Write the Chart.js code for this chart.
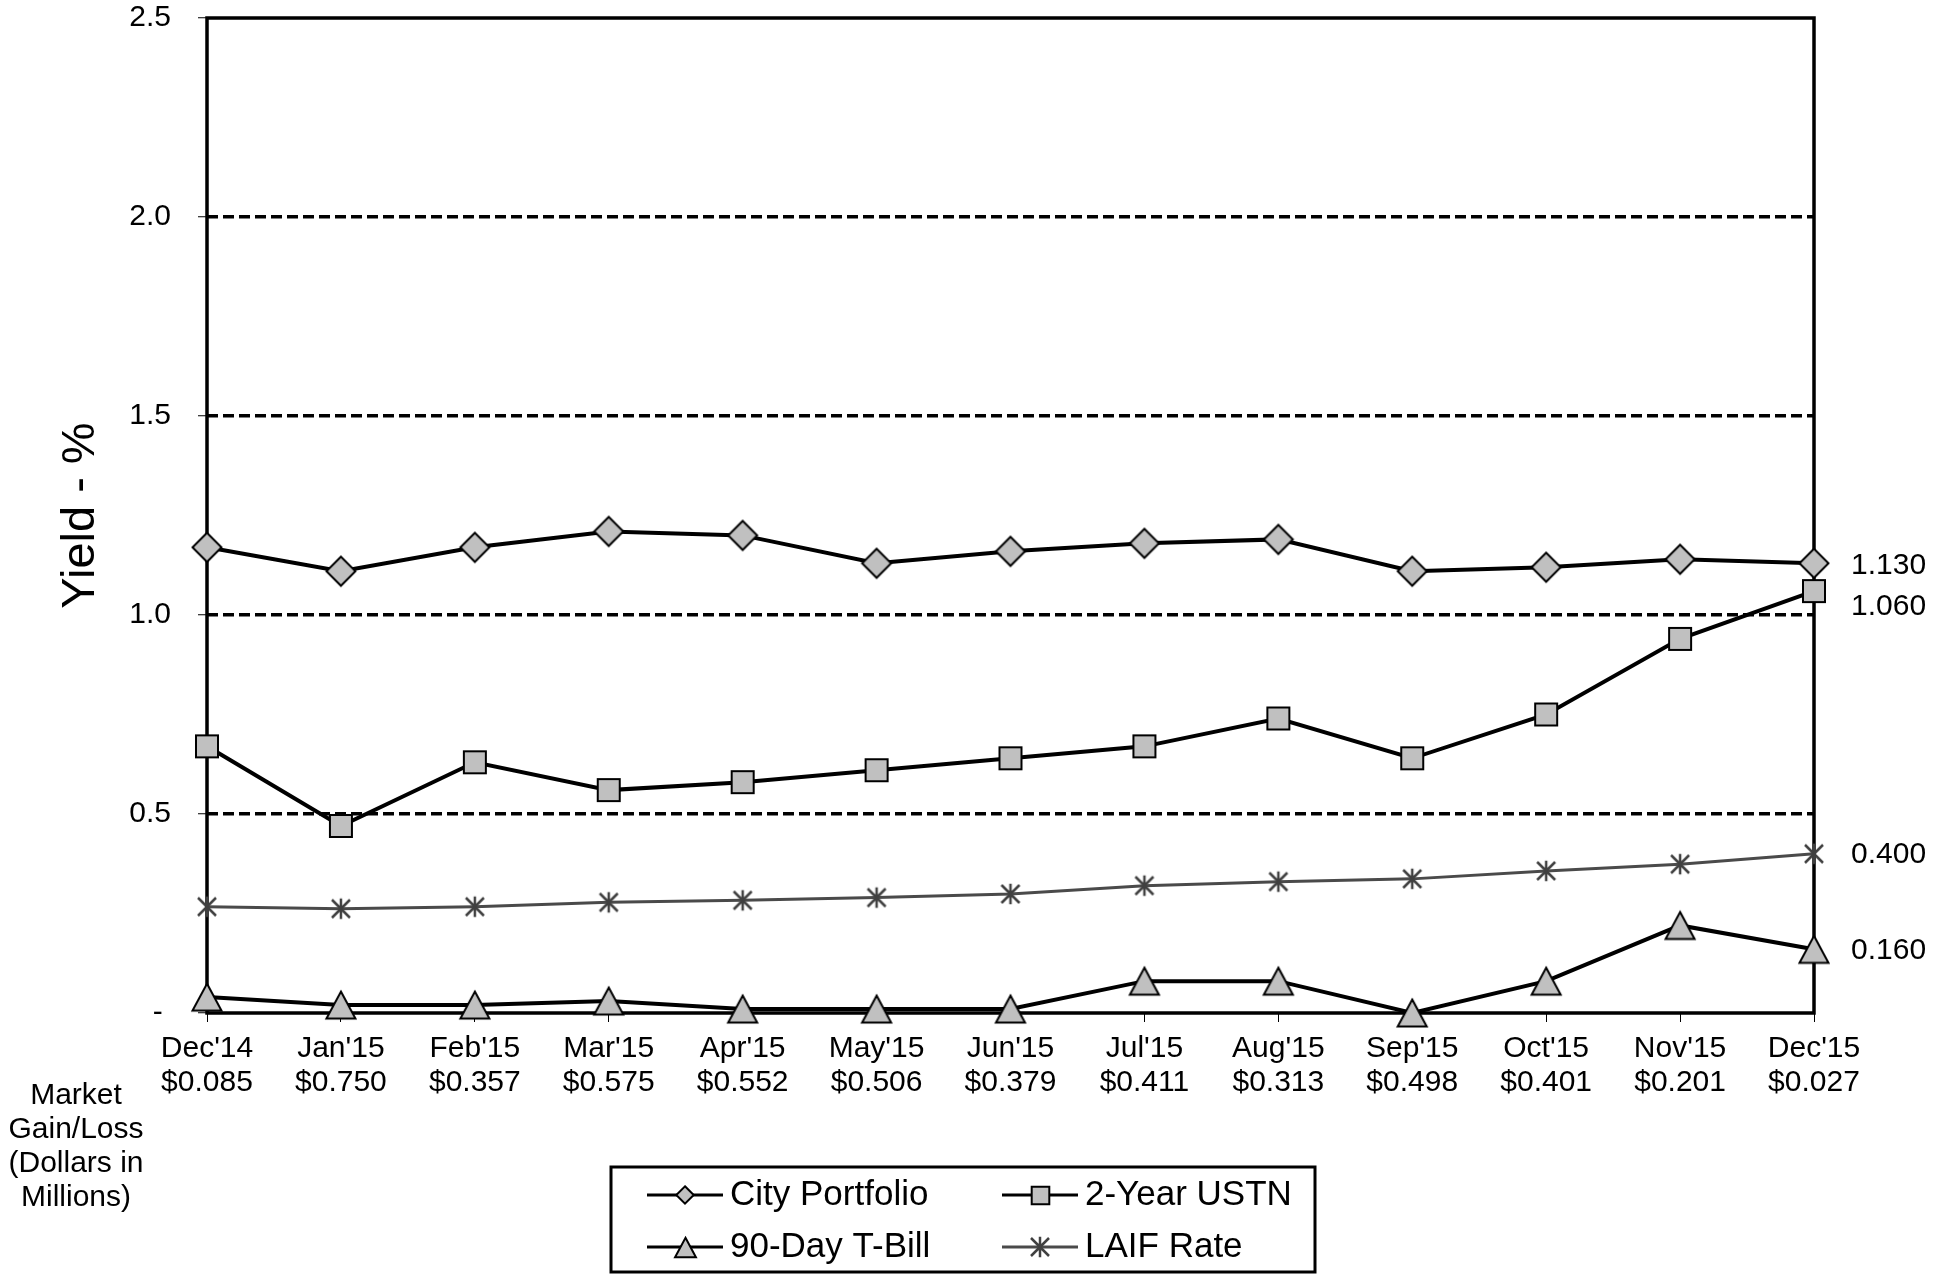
<!DOCTYPE html>
<html>
<head>
<meta charset="utf-8">
<script src="https://cdn.jsdelivr.net/npm/chart.js@4.4.1/dist/chart.umd.min.js"></script>
<style>
  html, body { margin: 0; padding: 0; background: #fff; }
  #wrap { width: 1955px; height: 1274px; position: relative; }
</style>
</head>
<body>
<div id="wrap"><canvas id="chart"></canvas></div>
<script>
const MONTHS    = ["Dec'14", "Jan'15", "Feb'15", "Mar'15", "Apr'15", "May'15", "Jun'15",
                   "Jul'15", "Aug'15", "Sep'15", "Oct'15", "Nov'15", "Dec'15"];
const GAIN_LOSS = ['$0.085', '$0.750', '$0.357', '$0.575', '$0.552', '$0.506', '$0.379',
                   '$0.411', '$0.313', '$0.498', '$0.401', '$0.201', '$0.027'];

const SERIES_NAMES = ['City Portfolio', '2-Year USTN', '90-Day T-Bill', 'LAIF Rate'];
const CITY  = [1.17, 1.11, 1.17, 1.21, 1.20, 1.13, 1.16, 1.18, 1.19, 1.11, 1.12, 1.14, 1.13];
const USTN  = [0.67, 0.47, 0.63, 0.56, 0.58, 0.61, 0.64, 0.67, 0.74, 0.64, 0.75, 0.94, 1.06];
const TBILL = [0.04, 0.02, 0.02, 0.03, 0.01, 0.01, 0.01, 0.08, 0.08, 0.00, 0.08, 0.22, 0.16];
const LAIF  = [0.267, 0.262, 0.267, 0.278, 0.283, 0.290, 0.299, 0.320, 0.330, 0.337, 0.357, 0.374, 0.400];

const Y_MIN = 0, Y_MAX = 2.5, Y_STEP = 0.5;

const FONT = "'Liberation Sans', Arial, sans-serif";

function makeMarker(kind, k) {
    const base = { diamond: 32, square: 26, triangle: 34, star: 24 }[kind];
    const size = Math.ceil(base * k) + 2;
    const c = document.createElement('canvas');
    c.width = c.height = size;
    const g = c.getContext('2d');
    const m = size / 2;
    g.fillStyle = '#c0c0c0';
    g.strokeStyle = '#000';
    g.lineWidth = 2;
    g.beginPath();
    if (kind === 'diamond') {
        const r = 14.5 * k;
        g.moveTo(m, m - r); g.lineTo(m + r, m); g.lineTo(m, m + r); g.lineTo(m - r, m);
        g.closePath();
    } else if (kind === 'square') {
        const h = 11 * k;
        g.rect(m - h, m - h, 2 * h, 2 * h);
    } else if (kind === 'triangle') {
        const w = 14.5 * k, h = 13.5 * k;
        g.moveTo(m, m - h); g.lineTo(m + w, m + h); g.lineTo(m - w, m + h);
        g.closePath();
    }
    if (kind === 'star') {
        const r = 9 * k;
        g.strokeStyle = '#404040';
        g.lineWidth = 2.5;
        g.moveTo(m - r, m - r); g.lineTo(m + r, m + r);
        g.moveTo(m + r, m - r); g.lineTo(m - r, m + r);
        g.moveTo(m, m - r * 1.15); g.lineTo(m, m + r * 1.15);
        g.stroke();
    } else {
        g.fill();
        g.stroke();
    }
    return c;
}

const MARKERS = [makeMarker('diamond', 1), makeMarker('square', 1), makeMarker('triangle', 1), makeMarker('star', 1)];
const LEGEND_MARKERS = [makeMarker('diamond', 0.6), makeMarker('square', 0.8), makeMarker('triangle', 0.72), makeMarker('star', 1)];
const LINE_COLORS = ['#000', '#000', '#000', '#4a4a4a'];
const LINE_WIDTHS = [4, 4, 4, 3];

function series(i, data) {
    return {
        label: SERIES_NAMES[i],
        data,
        borderColor: LINE_COLORS[i],
        borderWidth: LINE_WIDTHS[i],
        pointStyle: MARKERS[i],
        pointRadius: 8,
        pointHoverRadius: 8,
        tension: 0,
        clip: false,
        order: 4 - i
    };
}

// frame round the plot area, under the lines
const frame = {
    id: 'frame',
    beforeDatasetsDraw(chart) {
        const { ctx, chartArea: a } = chart;
        ctx.save();
        ctx.strokeStyle = '#000';
        ctx.lineWidth = 3.5;
        ctx.strokeRect(a.left, a.top, a.right - a.left, a.bottom - a.top);
        ctx.restore();
    }
};

// last values at right, legend box, gain/loss caption
const extras = {
    id: 'extras',
    afterDraw(chart) {
        const { ctx, chartArea: a } = chart;
        ctx.save();
        ctx.fillStyle = '#000';
        ctx.font = '30px ' + FONT;
        ctx.textAlign = 'left';
        ctx.textBaseline = 'middle';
        const nudge = [2, 16, 1, 1];
        chart.data.datasets.forEach((ds, i) => {
            const meta = chart.getDatasetMeta(i);
            const pt = meta.data[meta.data.length - 1];
            ctx.fillText(ds.data[ds.data.length - 1].toFixed(3), a.right + 37, pt.y + nudge[i]);
        });

        ctx.textAlign = 'center';
        ['Market', 'Gain/Loss', '(Dollars in', 'Millions)'].forEach((t, i) => {
            ctx.fillText(t, 76, 1096 + i * 34);
        });

        // legend
        const box = { x: 611, y: 1167, w: 704, h: 105 };
        ctx.lineWidth = 3;
        ctx.strokeStyle = '#000';
        ctx.strokeRect(box.x, box.y, box.w, box.h);
        const cols = [647, 1002];
        const rows = [1195, 1247];
        ctx.font = '35px ' + FONT;
        ctx.textAlign = 'left';
        SERIES_NAMES.forEach((name, i) => {
            const x = cols[i % 2], y = rows[Math.floor(i / 2)];
            ctx.beginPath();
            ctx.strokeStyle = LINE_COLORS[i];
            ctx.lineWidth = 3;
            ctx.moveTo(x, y);
            ctx.lineTo(x + 76, y);
            ctx.stroke();
            const mk = LEGEND_MARKERS[i];
            ctx.drawImage(mk, Math.round(x + 38 - mk.width / 2), Math.round(y - mk.height / 2));
            ctx.fillStyle = '#000';
            ctx.fillText(name, x + 83, y);
        });
        ctx.restore();
    }
};

new Chart(document.getElementById('chart'), {
    type: 'line',
    data: {
        labels: MONTHS.map((m, i) => [m, GAIN_LOSS[i]]),
        datasets: [series(0, CITY), series(1, USTN), series(2, TBILL), series(3, LAIF)]
    },
    options: {
        responsive: true,
        maintainAspectRatio: false,
        animation: false,
        layout: { padding: { top: 18, right: 141, bottom: 0, left: 0 } },
        plugins: {
            legend: { display: false },
            tooltip: { enabled: false }
        },
        scales: {
            x: {
                offset: false,
                border: { display: false },
                grid: { drawOnChartArea: false, tickLength: 9, tickColor: '#000', tickWidth: 1, tickBorderDash: [] },
                ticks: {
                    autoSkip: false, maxRotation: 0, padding: 10, color: '#000',
                    font: { family: FONT, size: 30, lineHeight: 34 / 30 }
                },
                afterFit(s) { s.height = 261; }
            },
            y: {
                min: Y_MIN,
                max: Y_MAX,
                border: { display: false, dash: [11, 5] },
                grid: {
                    color: c => (c.tick && (c.tick.value === Y_MIN || c.tick.value === Y_MAX)) ? 'rgba(0,0,0,0)' : '#000',
                    lineWidth: 3.5,
                    tickLength: 9, tickColor: '#000', tickWidth: 1, tickBorderDash: []
                },
                ticks: {
                    stepSize: Y_STEP, padding: 27, color: '#000',
                    font: { family: FONT, size: 30, lineHeight: 1 },
                    callback: v => v === 0 ? '- ' : v.toFixed(1)
                },
                title: {
                    display: true, text: 'Yield - %', color: '#000',
                    font: { family: FONT, size: 47, lineHeight: 1.2 },
                    padding: { top: 53, bottom: 0 }
                },
                afterFit(s) {
                    s.width = 207;
                    s.paddingTop = 0;
                    s.paddingBottom = 0;
                }
            }
        }
    },
    plugins: [frame, extras]
});
</script>
</body>
</html>
